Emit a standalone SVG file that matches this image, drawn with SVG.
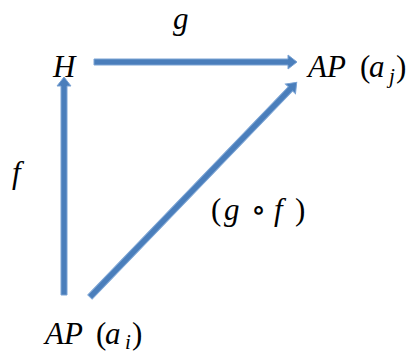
<svg xmlns="http://www.w3.org/2000/svg" width="408" height="354" viewBox="0 0 408 354">
<style>
.t{font-family:"Liberation Serif","DejaVu Serif",serif;font-style:italic;font-size:31px;fill:#000}
.u{font-style:normal}
.s{font-size:21px}
.ar{fill:#4a7ebb;stroke:#7aa3d4;stroke-width:1}
</style>
<rect width="408" height="354" fill="#fff"/>
<g id="connectors">
<g id="g-arrow" transform="translate(94,62)"><polygon class="ar" points="0,-3 194,-3 194,-7 203,0 194,7 194,3 0,3"/></g>
<g id="f-arrow" transform="translate(64,295) rotate(-90)"><polygon class="ar" points="0,-3 209,-3 209,-7 218,0 209,7 209,3 0,3"/></g>
<g id="gf-arrow" transform="translate(90,297) rotate(-46.08)"><polygon class="ar" points="0,-3 289,-3 289,-7 298,0 289,7 289,3 0,3"/></g>
</g>
<g id="node-H"><text class="t" x="53" y="77">H</text></g>
<g id="node-APj"><text class="t" y="77"><tspan x="308">AP</tspan><tspan class="u" x="360">(</tspan><tspan x="369">a</tspan><tspan class="s" x="389" dy="6">j</tspan><tspan class="u" x="396" dy="-6">)</tspan></text></g>
<g id="node-APi"><text class="t" y="344"><tspan x="45">AP</tspan><tspan class="u" x="96">(</tspan><tspan x="105">a</tspan><tspan class="s" x="125" dy="5">i</tspan><tspan class="u" x="132" dy="-5">)</tspan></text></g>
<g id="labels">
<text class="t" x="173" y="29">g</text>
<text class="t" x="12" y="183">f</text>
<text class="t" y="220"><tspan class="u" x="211">(</tspan><tspan x="224">g</tspan><tspan class="u" x="251">∘</tspan><tspan x="274">f</tspan><tspan class="u" x="295">)</tspan></text>
</g>
</svg>
